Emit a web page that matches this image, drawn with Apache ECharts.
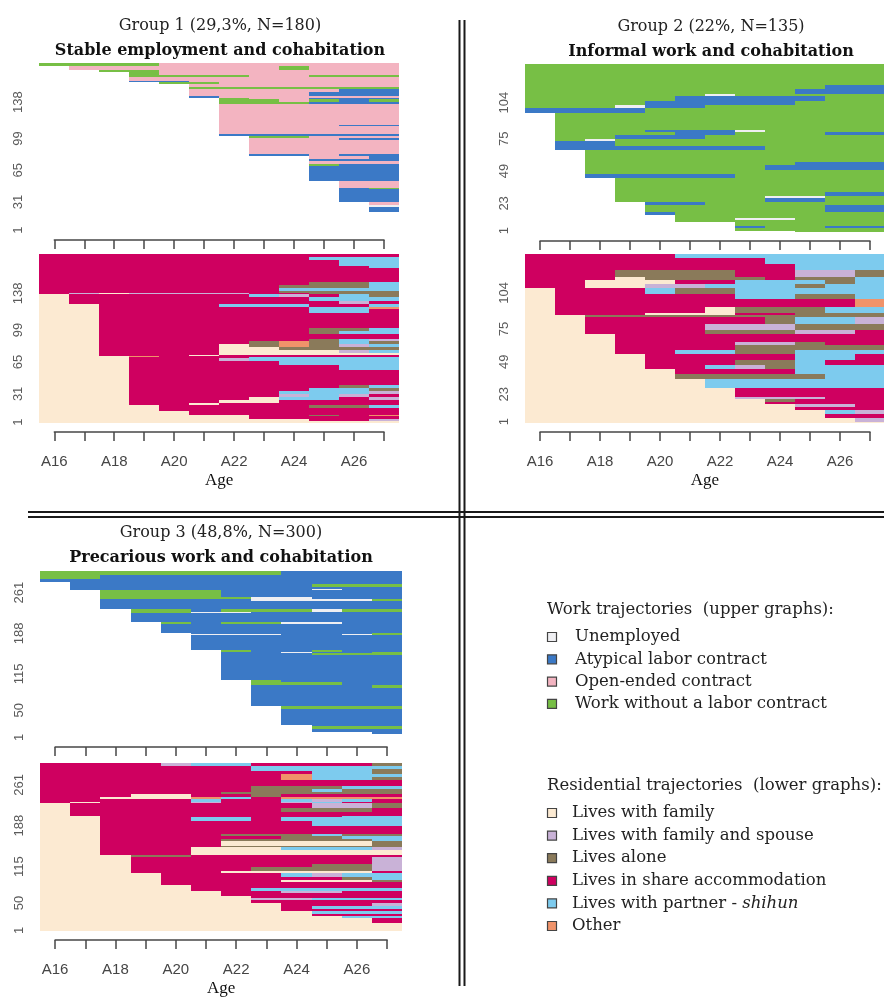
<!DOCTYPE html>
<html>
<head>
<meta charset="utf-8">
<script src="https://cdn.jsdelivr.net/npm/echarts@6/dist/echarts.min.js"></script>
<style>
  html, body { margin: 0; padding: 0; background: #ffffff; }
  #chart { width: 884px; height: 998px; }
</style>
</head>
<body>
<div id="chart"></div>
<script>
// Ages (columns of every sequence index plot)
const ages = [16, 17, 18, 19, 20, 21, 22, 23, 24, 25, 26, 27];

// Work states: U unemployed, A atypical, O open-ended, W no contract ('.' = no work record)
const workCodes = ['U', 'A', 'O', 'W'];
const workLabels = ['Unemployed', 'Atypical labor contract', 'Open-ended contract', 'Work without a labor contract'];
const workColors = ['#efeff2', '#3b79c6', '#f3b4c1', '#77bf45'];

// Residential states: F family, S family+spouse, L alone, H shared, P partner, X other
const resCodes = ['F', 'S', 'L', 'H', 'P', 'X'];
const resLabels = ['Lives with family', 'Lives with family and spouse', 'Lives alone',
  'Lives in share accommodation', 'Lives with partner - shihun', 'Other'];
const resColors = ['#fcead2', '#c9b2d7', '#8a7a5a', '#cf0060', '#7dcbee', '#f0936a'];

// Group headings
const groupHeads = ['Group 1 (29,3%, N=180)', 'Group 2 (22%, N=135)', 'Group 3 (48,8%, N=300)'];
const groupNames = ['Stable employment and cohabitation', 'Informal work and cohabitation',
  'Precarious work and cohabitation'];
const groupSizes = [180, 135, 300];

// Sequence index labels on the vertical axes
const yTicks1 = [1, 31, 65, 99, 138];
const yTicks2 = [1, 23, 49, 75, 104];
const yTicks3 = [1, 50, 115, 188, 261];

// Sequences, listed from the bottom row upward: [number of individuals, states A16..A27]
const g1Work = [
  [20, '............'], [6, '...........A'], [2, '...........U'], [3, '...........O'],
  [14, '..........AA'], [1, '..........AW'], [8, '..........OO'],
  [16, '.........AAA'], [2, '.........WAA'], [3, '.........OOO'], [2, '.........AAA'], [3, '.........OOA'],
  [2, '.......AAOAA'], [16, '.......OOOOO'], [2, '.......OOOAA'], [2, '.......WWOOO'], [2, '......AAAAAA'],
  [8, '......OOOOOO'], [2, '......OOOOAA'], [22, '......OOOOOO'], [2, '......WWWAAA'], [3, '......WWOWAW'],
  [2, '......WOOAAA'],
  [2, '.....AOOOOOO'], [4, '.....OOOOAAA'], [3, '.....OOOOOAA'], [2, '.....WWWWWWW'], [3, '.....OOOOOOO'],
  [3, '....WWOOOOOO'], [1, '...AAOOOOOOO'], [4, '...OOOOOOOOO'], [2, '...WWWWOOWWW'], [3, '...WOOOOOOOO'],
  [3, '..WWOOOOOOOO'], [4, '.OOOOOOOWOOO'], [3, 'WWWWOOOOOOOO']
];
const g1Res = [
  [2, 'FFFFFFFFFFFF'], [2, 'FFFFFFFFFHHS'], [3, 'FFFFFFFHHHHH'], [2, 'FFFFFFFHHLHX'],
  [4, 'FFFFFHHHHHHH'], [3, 'FFFFHHHHHHHH'], [3, 'FFFFHHHHHLLP'],
  [2, 'FFFHHFHHHHHH'], [4, 'FFFHHHFFHHHH'], [3, 'FFFHHHHFPPHS'], [3, 'FFFHHHHHSPSH'], [3, 'FFFHHHHHPPPS'],
  [3, 'FFFHHHHHHPPL'], [3, 'FFFHHHHHHHLP'], [16, 'FFFHHHHHHHHH'], [6, 'FFFHHHHHHHPP'], [4, 'FFFHHHHHPPPP'],
  [3, 'FFFHHHSPPPPP'], [1, 'FFFHHHHPPPPP'], [1, 'FFFXHHHHHHHH'],
  [1, 'FFHHHFHHHHHH'], [3, 'FFHHHHFFFFFF'], [3, 'FFHHHHFFFFSP'], [3, 'FFHHHHFFLLLL'], [3, 'FFHHHHFLXLSP'],
  [3, 'FFHHHHHLXLPL'], [3, 'FFHHHHHHHLPS'], [5, 'FFHHHHHHHHHH'], [3, 'FFHHHHHHHLPP'], [3, 'FFHHHHHHHLLP'],
  [16, 'FFHHHHHHHHHH'], [4, 'FFHHHHHHHPPH'], [3, 'FFHHHHHHHPPX'], [3, 'FFHHHHPPPHHP'],
  [3, 'FHHHHHHHHHSH'], [4, 'FHHHHHHHHPPP'], [3, 'FHHHHHHPSHPL'],
  [1, 'HSFSSSSHHLLL'], [3, 'HHHHHHHHLLLL'], [3, 'HHHHHHHHPPPP'], [3, 'HHHHHHHHLLLP'], [3, 'HHHHHHHHHLLP'],
  [15, 'HHHHHHHHHHHH'], [2, 'HHHHHHHHHHHP'], [7, 'HHHHHHHHHHPP'], [3, 'HHHHHHHHHPPP'], [3, 'HHHHHHHHHHHH']
];
const g2Work = [
  [1, '.........WWW'], [2, '.......WWWWW'], [2, '.......AWWAA'], [3, '.......WWWWW'],
  [2, '.....WWWWWWW'], [1, '.....WWUUWWW'], [3, '.....WWWWWWW'],
  [2, '....AWWWWWWW'], [6, '....WWWWWWAA'], [2, '....AAWWWWWW'],
  [3, '...WWWWWAAWW'], [2, '...WWWWWUUWW'], [3, '...WWWWWWWAA'], [11, '...WWWWWWWWW'],
  [4, '..AAAAAWWWWW'], [3, '..WWWWWWWWWW'], [4, '..WWWWWWAAAA'], [2, '..WWWWWWWAAA'], [10, '..WWWWWWWWWW'],
  [3, '.AAAAAAAWWWW'], [4, '.AAWWWWWWWWW'], [2, '.WUWWWWWWWWW'], [3, '.WWAAAWWWWWW'], [2, '.WWWWAAWWWAA'],
  [2, '.WWWAAAUWWWW'], [14, '.WWWWWWWWWWW'],
  [1, 'AAAAWWWWWWWW'], [3, 'AAAAWWWWWWWW'], [2, 'WWWUAAWWWWWW'], [3, 'WWWWAAAAAWWW'], [4, 'WWWWWAAAAAWW'],
  [2, 'WWWWWWUWWWWW'], [4, 'WWWWWWWWWAAA'], [3, 'WWWWWWWWWWAA'], [17, 'WWWWWWWWWWWW']
];
const g2Res = [
  [1, 'FFFFFFFFFFFF'], [3, 'FFFFFFFFFFFS'], [3, 'FFFFFFFFFFHH'], [3, 'FFFFFFFFFFPS'], [3, 'FFFFFFFFFHHH'],
  [2, 'FFFFFFFFFSSH'], [2, 'FFFFFFFFHHHH'], [2, 'FFFFFFFFLHHH'], [2, 'FFFFFFFSSSHH'], [7, 'FFFFFFFHHHHH'],
  [7, 'FFFFFFPPPPPP'], [4, 'FFFFFLLLLLPP'], [4, 'FFFFFHHHHPPP'],
  [3, 'FFFFHHPSLPPP'], [4, 'FFFFHHHLLPHH'], [5, 'FFFFHHHHHPPH'],
  [3, 'FFFHHPPLLPPP'], [4, 'FFFHHHHLLLLL'], [3, 'FFFHHHHSSLHH'], [6, 'FFFHHHHHHHHH'],
  [3, 'FFHHHHLLLSSH'], [5, 'FFHHHHSSSLLL'], [6, 'FFHHHHHHLPPS'], [1, 'FFLLLLLLLLLL'],
  [2, 'FHHHFFFHHLLL'], [5, 'FHHHHHFLLLPP'], [6, 'FHHHHHHHHHHX'], [4, 'FHHHHHHPPLLP'], [5, 'FHHHPLLPPPPP'],
  [3, 'HHFFSSPPPLPP'], [3, 'HHFFFHHPPPLP'], [3, 'HHHFLLLLHLLP'], [5, 'HHHLLLLHHSSL'],
  [5, 'HHHHHHHHHPPP'], [5, 'HHHHHHHHPPPP'], [3, 'HHHHHPPPPPPP']
];
const g3Work = [
  [8, '............'], [3, '...........A'], [6, '.........AAA'], [4, '.........WWW'], [2, '.........AAA'],
  [29, '........AAAA'], [5, '........WWWW'],
  [33, '.......AAAAA'], [6, '.......AAAAW'], [4, '.......WWWAA'], [4, '.......WAAAA'],
  [46, '......AAAAAA'], [3, '......AAAWWW'], [2, '......AAUAAW'], [3, '......WAAWAA'],
  [27, '.....AAAAAAA'], [2, '.....UUUAAUW'], [2, '.....AAAAAAW'],
  [16, '....AAAAAAAA'], [3, '....WAWWUUAA'],
  [16, '...AAAAAAAAA'], [2, '...WWUUAAAAA'], [6, '...WWAWWWUWW'],
  [15, '..AAAAAAAAAA'], [3, '..AAAAAUUUUW'], [4, '..WWWWWUUAAA'], [12, '..WWWWAAAAAA'],
  [1, '.AAAAAAAAUAA'], [5, '.AAAAAAAAAAA'], [5, '.AAAAAAAAWWW'], [4, '.AAAAAAAAAAA'],
  [4, 'AAAAAAAAAAAA'], [7, 'WWAAAAAAAAAA'], [8, 'WWWWWWWWAAAA']
];
const g3Res = [
  [15, 'FFFFFFFFFFFF'], [8, 'FFFFFFFFFFFH'], [4, 'FFFFFFFFFFPP'], [4, 'FFFFFFFFFHHH'], [4, 'FFFFFFFFFPPP'],
  [5, 'FFFFFFFFHHHH'], [5, 'FFFFFFFFHPPP'], [5, 'FFFFFFFFHHHS'],
  [5, 'FFFFFFFHHHHH'], [4, 'FFFFFFFSSPPP'], [3, 'FFFFFFFHHHHH'],
  [5, 'FFFFFFHHHHHH'], [4, 'FFFFFFHHSSHH'],
  [6, 'FFFFFHHPPPPP'], [5, 'FFFFFHHHHHHH'],
  [5, 'FFFFHHHHHHHH'], [4, 'FFFFHHHHFFFL'], [6, 'FFFFHHHHHHLP'], [6, 'FFFFHHHHPSPP'],
  [5, 'FFFHHHFFFFFH'], [6, 'FFFHHHHLLLLS'], [6, 'FFFHHHHHHLLS'], [12, 'FFFHHHHHHHHS'], [3, 'FFFLLHHHHHHH'],
  [10, 'FFHHHFFFFFFF'], [5, 'FFHHHFFFPPPS'], [2, 'FFHHHHLLLLLL'], [8, 'FFHHHHFFFFFL'], [4, 'FFHHHHLLLLLP'],
  [5, 'FFHHHHHHLLPP'], [4, 'FFHHHHLLLPLL'], [15, 'FFHHHHHHHHHH'], [9, 'FFHHHHHHHPPP'], [6, 'FFHHHPPHPPPP'],
  [2, 'FFHHHHHHHHPP'],
  [1, 'FHHFFFHHHHHH'], [6, 'FHHHHHHHHHHH'], [7, 'FHHHHHHHLLLH'], [10, 'FHHHHHHHHSSL'],
  [2, 'HFHHHSHHSPHH'], [4, 'HHHHHPHHPSPH'], [5, 'HHFFFXPHXXXX'], [4, 'HHHFFHHLHHHH'],
  [5, 'HHHHHHLLLLLL'], [5, 'HHHHHHHLLPLL'], [5, 'HHHHHHHLLLPP'],
  [11, 'HHHHHHHHHHHH'], [5, 'HHHHHHHHXPPL'], [5, 'HHHHHHHHXPPP'], [5, 'HHHHHHHHHPPL'],
  [5, 'HHHHHHHPPPPL'], [4, 'HHHHHHHPPPPP'], [6, 'HHHHSPPHHHHL']
];

// Turn stacked sequence blocks into spell rectangles: [ageFrom, ageTo, rowFrom, rowTo, stateIndex]
function toSpells(blocks, codes) {
  const out = [];
  let row = 0;
  blocks.forEach(([n, seq]) => {
    let i = 0;
    while (i < seq.length) {
      let j = i;
      while (j + 1 < seq.length && seq[j + 1] === seq[i]) j++;
      const k = codes.indexOf(seq[i]);
      if (k >= 0) out.push([ages[i] - 0.5, ages[j] + 0.5, row, row + n, k]);
      i = j + 1;
    }
    row += n;
  });
  return out;
}

// Plot frames: the horizontal extent runs from the A16 tick to the A27 tick
const panels = [
  { box: { left: 54.3, width: 329.7, top: 63, height: 168 }, seq: g1Work, kind: 'work', ticks: yTicks1, n: groupSizes[0], lower: false },
  { box: { left: 54.3, width: 329.7, top: 254, height: 169 }, seq: g1Res, kind: 'res', ticks: yTicks1, n: groupSizes[0], lower: true },
  { box: { left: 540, width: 330, top: 64, height: 168 }, seq: g2Work, kind: 'work', ticks: yTicks2, n: groupSizes[1], lower: false },
  { box: { left: 540, width: 330, top: 254, height: 169 }, seq: g2Res, kind: 'res', ticks: yTicks2, n: groupSizes[1], lower: true },
  { box: { left: 55.1, width: 332, top: 571, height: 167 }, seq: g3Work, kind: 'work', ticks: yTicks3, n: groupSizes[2], lower: false },
  { box: { left: 55.1, width: 332, top: 763, height: 170 }, seq: g3Res, kind: 'res', ticks: yTicks3, n: groupSizes[2], lower: true }
];

const axisGrey = '#474747';

const grid = panels.map(p => Object.assign({ containLabel: false }, p.box));

const xAxis = panels.map((p, i) => ({
  gridIndex: i,
  type: 'value',
  min: 16,
  max: 27,
  interval: 1,
  offset: 9,
  axisLine: { show: true, onZero: false, lineStyle: { color: axisGrey, width: 1.5 } },
  axisTick: { show: true, length: 9, lineStyle: { color: axisGrey, width: 1.5 } },
  axisLabel: {
    show: p.lower,
    margin: 22,
    fontSize: 15,
    color: '#454545',
    fontFamily: 'Liberation Sans',
    formatter: v => (v % 2 === 0 && v < 27 ? 'A' + v : '')
  },
  splitLine: { show: false },
  name: p.lower ? 'Age' : '',
  nameLocation: 'middle',
  nameGap: 40,
  nameTextStyle: { fontFamily: 'Liberation Serif', fontSize: 17, color: '#111' }
}));

const yAxis = panels.map((p, i) => ({
  gridIndex: i,
  type: 'value',
  min: 0,
  max: p.n,
  axisLine: { show: false },
  axisTick: { show: false },
  splitLine: { show: false },
  axisLabel: {
    customValues: p.ticks,
    rotate: 90,
    margin: 29,
    fontSize: 13,
    color: '#5a5a5a',
    fontFamily: 'Liberation Sans'
  }
}));

const series = panels.map((p, i) => {
  const colors = p.kind === 'work' ? workColors : resColors;
  const codes = p.kind === 'work' ? workCodes : resCodes;
  return {
    type: 'custom',
    xAxisIndex: i,
    yAxisIndex: i,
    silent: true,
    animation: false,
    clip: false,
    data: toSpells(p.seq, codes),
    renderItem: (params, api) => {
      const a = api.coord([api.value(0), api.value(3)]);
      const b = api.coord([api.value(1), api.value(2)]);
      // snap spell edges to whole pixels so stacked rows meet without seams
      const x0 = Math.round(a[0]), x1 = Math.round(b[0]);
      const y0 = Math.round(a[1]), y1 = Math.round(b[1]);
      return {
        type: 'rect',
        shape: { x: x0, y: y0, width: x1 - x0, height: y1 - y0 },
        style: { fill: colors[api.value(4)] }
      };
    }
  };
});

// Headings above each pair of plots
const titleCenters = [[215, 11], [706, 12], [216, 518]];
const title = groupHeads.map((h, i) => ({
  text: h,
  subtext: groupNames[i],
  left: titleCenters[i][0],
  top: titleCenters[i][1],
  textAlign: 'center',
  itemGap: 5,
  textStyle: { fontFamily: 'DejaVu Serif', fontWeight: 'normal', fontSize: 16, color: '#222', lineHeight: 20 },
  subtextStyle: { fontFamily: 'DejaVu Serif', fontWeight: 'bold', fontSize: 16, color: '#111', lineHeight: 20 }
}));

// Legend blocks drawn as graphic items
const legendFont = 16.5;
function legendBlock(heading, labels, colors, x, y0, textX, step) {
  const items = [{
    type: 'text', x: x, y: y0,
    style: { text: heading, fontFamily: 'DejaVu Serif', fontSize: legendFont, fill: '#222', verticalAlign: 'middle' }
  }];
  labels.forEach((lab, i) => {
    const y = y0 + 27 + i * step;
    items.push({
      type: 'rect', shape: { x: x + 0.5, y: y - 4.5, width: 9, height: 9 },
      style: { fill: colors[i], stroke: '#444', lineWidth: 1.2 }
    });
    const dash = lab.indexOf(' - ');
    const style = dash >= 0
      ? {
          text: '{n|' + lab.slice(0, dash + 3) + '}{i|' + lab.slice(dash + 3) + '}',
          rich: {
            n: { fontFamily: 'DejaVu Serif', fontSize: legendFont, fill: '#222' },
            i: { fontFamily: 'DejaVu Serif', fontSize: legendFont, fontStyle: 'italic', fill: '#222' }
          },
          verticalAlign: 'middle'
        }
      : { text: lab, fontFamily: 'DejaVu Serif', fontSize: legendFont, fill: '#222', verticalAlign: 'middle' };
    items.push({ type: 'text', x: textX, y: y, style: style });
  });
  return items;
}

const sepColor = '#1a1a1a';
const graphic = [
  // double separators between the quadrants
  { type: 'line', shape: { x1: 459.5, y1: 20, x2: 459.5, y2: 986 }, style: { stroke: sepColor, lineWidth: 2 } },
  { type: 'line', shape: { x1: 464.5, y1: 20, x2: 464.5, y2: 986 }, style: { stroke: sepColor, lineWidth: 2 } },
  { type: 'line', shape: { x1: 28, y1: 512, x2: 884, y2: 512 }, style: { stroke: sepColor, lineWidth: 2 } },
  { type: 'line', shape: { x1: 28, y1: 517, x2: 884, y2: 517 }, style: { stroke: sepColor, lineWidth: 2 } }
]
  .concat(legendBlock('Work trajectories  (upper graphs):', workLabels, workColors, 547, 610, 575, 22.3))
  .concat(legendBlock('Residential trajectories  (lower graphs):', resLabels, resColors, 547, 786, 572, 22.6));

const chart = echarts.init(document.getElementById('chart'), null, { renderer: 'canvas' });
chart.setOption({
  animation: false,
  backgroundColor: '#ffffff',
  title: title,
  grid: grid,
  xAxis: xAxis,
  yAxis: yAxis,
  series: series,
  graphic: graphic
});
</script>
</body>
</html>
